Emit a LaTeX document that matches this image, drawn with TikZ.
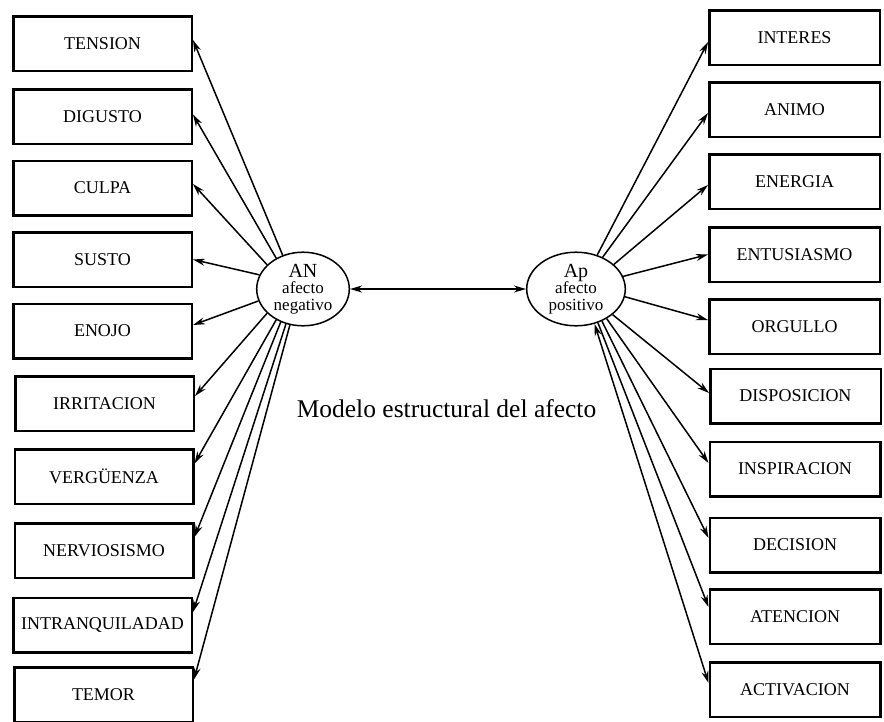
\documentclass[tikz,border=0pt]{standalone}
\usepackage{fontspec}
\setmainfont{Liberation Serif}
\usetikzlibrary{arrows.meta,calc,shapes.geometric}
\begin{document}
\begin{tikzpicture}[x=1pt,y=-1pt,
  box/.style={draw,line width=2.5pt,minimum width=178.5pt,minimum height=54.5pt,inner sep=0pt,font=\fontsize{18}{18}\selectfont},
  rbox/.style={box,minimum width=170.5pt},
  latent/.style={draw,ellipse,line width=1.5pt,inner sep=0pt,align=center,font=\fontsize{17}{16.5}\selectfont},
  arr/.style={line width=1.5pt,-{Stealth[length=12pt,width=7pt]}},
  darr/.style={line width=1.5pt,{Stealth[length=12pt,width=7pt]}-{Stealth[length=12pt,width=7pt]}},
  big/.style={font=\fontsize{20}{16.5}\selectfont},
]
\useasboundingbox (0,0) rectangle (884,721);
\fill[white] (0,0) rectangle (884,721);

% left boxes
\node[box] (L1) at (102.5,43.5) {TENSION};
\node[box] (L2) at (102.5,116.5) {DIGUSTO};
\node[box] (L3) at (102.5,188) {CULPA};
\node[box] (L4) at (102.5,259.5) {SUSTO};
\node[box] (L5) at (102.5,331) {ENOJO};
\node[box] (L6) at (104.5,403.5) {IRRITACION};
\node[box] (L7) at (104,476.5) {VERGÜENZA};
\node[box] (L8) at (104,550.5) {NERVIOSISMO};
\node[box] (L9) at (102.5,625) {INTRANQUILADAD};
\node[box] (L10) at (103.5,694.5) {TEMOR};

% right boxes
\node[rbox] (R1) at (794.5,37.5) {INTERES};
\node[rbox] (R2) at (794.5,109.5) {ANIMO};
\node[rbox] (R3) at (794.5,181.5) {ENERGIA};
\node[rbox] (R4) at (794.5,254.5) {ENTUSIASMO};
\node[rbox] (R5) at (794.5,326.5) {ORGULLO};
\node[rbox] (R6) at (795.5,396) {DISPOSICION};
\node[rbox] (R7) at (795,469) {INSPIRACION};
\node[rbox] (R8) at (795,545) {DECISION};
\node[rbox] (R9) at (795,616.5) {ATENCION};
\node[rbox] (R10) at (795,689.5) {ACTIVACION};

% latent factors
\node[latent,minimum width=92.6pt,minimum height=73.6pt] (AN) at (303,289) {{\fontsize{20}{16.5}\selectfont AN}\\afecto\\negativo};
\node[latent,minimum width=98.6pt,minimum height=73.6pt] (Ap) at (576,289) {{\fontsize{20}{16.5}\selectfont Ap}\\afecto\\positivo};

\draw[darr] (AN.east) -- (Ap.west);

\node[font=\fontsize{25.5}{25.5}\selectfont,anchor=base] (title) at (446.5,417) {Modelo estructural del afecto};

% left connectors
\draw[arr] (AN.121.7) -- ([yshift=3.5pt]L1.east);
\draw[arr] (AN.131) -- ([yshift=2pt]L2.east);
\draw[arr] (AN.146) -- ([yshift=4pt]L3.east);
\draw[arr] (AN.162) -- (L4.east);
\draw[arr] (AN.195) -- ([yshift=6pt]L5.east);
\draw[arr] (AN.214) -- ([yshift=7.5pt]L6.east);
\draw[arr] (AN.229) -- ([yshift=13pt]L7.east);
\draw[arr] (AN.236) -- ([yshift=13.5pt]L8.east);
\draw[arr] (AN.244) -- ([yshift=13pt]L9.east);
\draw[arr] (AN.250) -- ([yshift=15pt]L10.east);

% right connectors
\draw[arr] (Ap.58) -- ([yshift=-4.5pt]R1.west);
\draw[arr] (Ap.50) -- ([yshift=-3.5pt]R2.west);
\draw[arr] (Ap.33) -- ([yshift=-3.5pt]R3.west);
\draw[arr] (Ap.15.6) -- (R4.west);
\draw[arr] (Ap.-9) -- ([yshift=6.5pt]R5.west);
\draw[arr] (Ap.-35) -- ([yshift=3pt]R6.west);
\draw[arr] (Ap.-44) -- ([yshift=6pt]R7.west);
\draw[arr] (Ap.-51) -- ([yshift=7pt]R8.west);
\draw[arr] (Ap.-57) -- ([yshift=9.5pt]R9.west);
\draw[darr] (Ap.-62) -- ([yshift=6.5pt]R10.west);
\end{tikzpicture}
\end{document}
